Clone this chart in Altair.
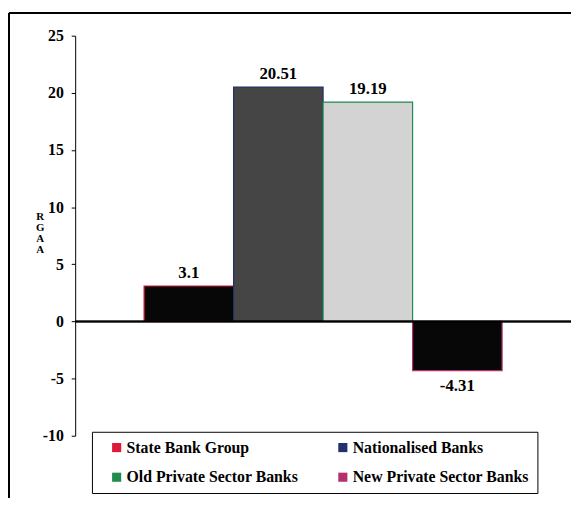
import altair as alt
import pandas as pd

banks = ["State Bank Group", "Nationalised Banks", "Old Private Sector Banks", "New Private Sector Banks"]
values = [3.1, 20.51, 19.19, -4.31]
labels = ["3.1", "20.51", "19.19", "-4.31"]
bar_fills = ["#070707", "#454545", "#D3D3D3", "#070707"]
legend_colors = ["#E0163A", "#22306E", "#1E8C4E", "#B4306E"]
y_ticks = [-10, -5, 0, 5, 10, 15, 20, 25]

df = pd.DataFrame({"Bank": banks, "Value": values, "Label": labels})

FONT = "Liberation Serif"

xenc = alt.X("Bank:N", sort=banks, axis=None,
             scale=alt.Scale(paddingInner=0, paddingOuter=0.77))
yscale = alt.Scale(domain=[-10, 25], nice=False, zero=False)

bars = alt.Chart(df).mark_bar(strokeWidth=1.2).encode(
    x=xenc,
    y=alt.Y("Value:Q", scale=yscale,
            axis=alt.Axis(values=y_ticks, grid=False, domainColor="black", domainWidth=1,
                          tickColor="black", tickSize=4, labelFont=FONT, labelFontWeight="bold",
                          labelFontSize=16, labelColor="black", labelPadding=8,
                          labelExpr="'' + datum.value",
                          title=["R", "G", "A", "A"], titleAngle=0, titleFont=FONT,
                          titleFontSize=11, titleFontWeight="bold", titleLineHeight=11,
                          titleX=-36, titleY=177, titleAlign="center", titleBaseline="top",
                          titleColor="black")),
    y2=alt.datum(0),
    fill=alt.Fill("Bank:N", sort=banks, scale=alt.Scale(domain=banks, range=bar_fills), legend=None),
    stroke=alt.Stroke("Bank:N", sort=banks, scale=alt.Scale(domain=banks, range=legend_colors), legend=None),
)

legend_layer = alt.Chart(df).mark_square(opacity=0).encode(
    x=xenc,
    y=alt.Y("Value:Q", scale=yscale),
    fill=alt.Fill("Bank:N", sort=banks, scale=alt.Scale(domain=banks, range=legend_colors),
                  legend=alt.Legend(title=None, orient="none", legendX=17, legendY=401,
                                    direction="horizontal", columns=2, columnPadding=28,
                                    rowPadding=14, padding=8, symbolOffset=9,
                                    strokeColor="black",
                                    fillColor="white", symbolType="square", symbolSize=85,
                                    symbolOpacity=1, symbolStrokeWidth=0, labelOffset=2,
                                    labelFont=FONT, labelFontSize=16, labelFontWeight="bold",
                                    labelColor="black", labelLimit=400)),
)

zero = alt.Chart(df).mark_rule(color="black", strokeWidth=1.5).encode(y=alt.datum(0))

pos_text = alt.Chart(df).transform_filter("datum.Value >= 0").mark_text(
    font=FONT, fontSize=17, fontWeight="bold", color="black", dy=-13, baseline="middle"
).encode(x=xenc, y=alt.Y("Value:Q", scale=yscale), text="Label:N")

neg_text = alt.Chart(df).transform_filter("datum.Value < 0").mark_text(
    font=FONT, fontSize=17, fontWeight="bold", color="black", dy=16, baseline="middle"
).encode(x=xenc, y=alt.Y("Value:Q", scale=yscale), text="Label:N")

frame_top = alt.Chart(df).mark_rule(color="black", strokeWidth=2).encode(
    x=alt.value(-67), x2=alt.value(510), y=alt.value(-23))
frame_left = alt.Chart(df).mark_rule(color="black", strokeWidth=2).encode(
    x=alt.value(-67), y=alt.value(-23), y2=alt.value(470))

chart = alt.layer(bars, zero, pos_text, neg_text, legend_layer, frame_top, frame_left).resolve_scale(
    fill="independent"
).properties(
    width=502, height=405,
    autosize=alt.AutoSizeParams(type="none"),
    padding={"left": 68, "top": 25, "right": 0, "bottom": 60},
    background="white",
).configure_view(stroke=None)

chart.save("out.html", embed_options={"renderer": "svg", "actions": False})
